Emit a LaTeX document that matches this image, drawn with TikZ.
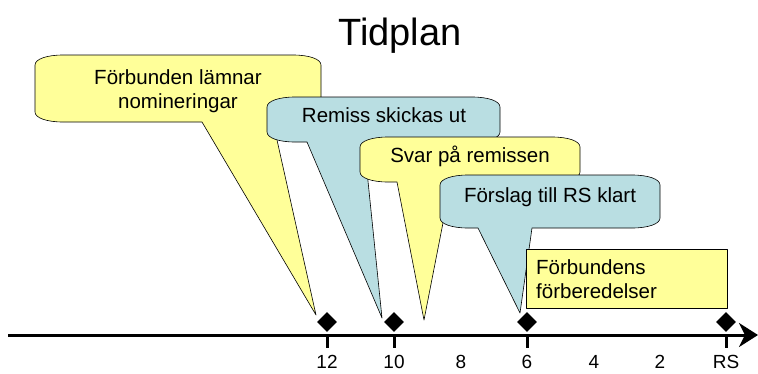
\documentclass[tikz,border=0pt]{standalone}
\usepackage{fontspec}
\setmainfont{Liberation Sans}
\usetikzlibrary{shapes.geometric,arrows.meta}
\definecolor{cyel}{RGB}{255,255,153}
\definecolor{cblu}{RGB}{185,222,226}
\newcommand\calloutpath[9]{%
\draw[#1] (#2,#3+10) .. controls (#2,#3+4) and (#2+12,#3) .. (#2+28,#3) -- (#4-28,#3)
 .. controls (#4-12,#3) and (#4,#3+4) .. (#4,#3+10) -- (#4,#5-10)
 .. controls (#4,#5-4) and (#4-12,#5) .. (#4-28,#5) -- (#7,#5) -- (#8,#9) -- (#6,#5)
 -- (#2+28,#5) .. controls (#2+12,#5) and (#2,#5-4) .. (#2,#5-10) -- cycle;}
\tikzset{
  ybox/.style={fill=cyel,draw=black,line width=0.6pt,line join=round},
  bbox/.style={fill=cblu,draw=black,line width=0.6pt,line join=round},
  txt/.style={anchor=base,inner sep=0pt,font=\fontsize{20.5}{24}\selectfont},
  lbl/.style={anchor=base,inner sep=0pt,font=\fontsize{19}{22}\selectfont},
  dmd/.style={diamond,fill=black,inner sep=0pt,minimum width=20pt,minimum height=20pt},
  tickline/.style={line width=3pt},
}
\begin{document}
\begin{tikzpicture}[x=1pt,y=-1pt]
\useasboundingbox (0,0) rectangle (758,373);
\node[anchor=base,inner sep=0pt,font=\fontsize{38}{44}\selectfont] (title) at (400,45) {Tidplan};
% callouts
\calloutpath{ybox}{35}{55}{321}{122}{202}{273}{316}{315}
\node[txt] (c1a) at (178,84) {Förbunden lämnar};
\node[txt] (c1b) at (178,108) {nomineringar};
\calloutpath{bbox}{267}{97}{500}{142}{307}{364}{382}{318}
\node[txt] (c2) at (384,122) {Remiss skickas ut};
\calloutpath{ybox}{360}{137}{580}{182}{397}{451}{424}{320}
\node[txt] (c3) at (470,162) {Svar på remissen};
\calloutpath{bbox}{440}{175}{660}{228}{478}{532}{520}{313}
\node[txt] (c4) at (550,202) {Förslag till RS klart};
\draw[ybox] (526,249) rectangle (727,308);
\node[txt,anchor=base west] (c5a) at (536,274) {Förbundens};
\node[txt,anchor=base west] (c5b) at (536,298) {förberedelser};
% axis
\coordinate (axL) at (8,335);
\coordinate (axR) at (758,335);
\draw[line width=3pt,-{Stealth[length=19pt,width=24pt,inset=6pt]}] (axL) -- (axR);
\foreach \n/\x in {12/327,10/394,6/527,RS/726}{
  \node[dmd] (d\n) at (\x,322) {};
  \coordinate (t\n) at (\x,348);
  \draw[tickline] (\x,335) -- (t\n);
}
\foreach \n/\x in {12/327,10/394,8/461,6/527,4/594,2/660,RS/726}{
  \node[lbl] (l\n) at (\x,368.5) {\n};
}
\end{tikzpicture}
\end{document}
